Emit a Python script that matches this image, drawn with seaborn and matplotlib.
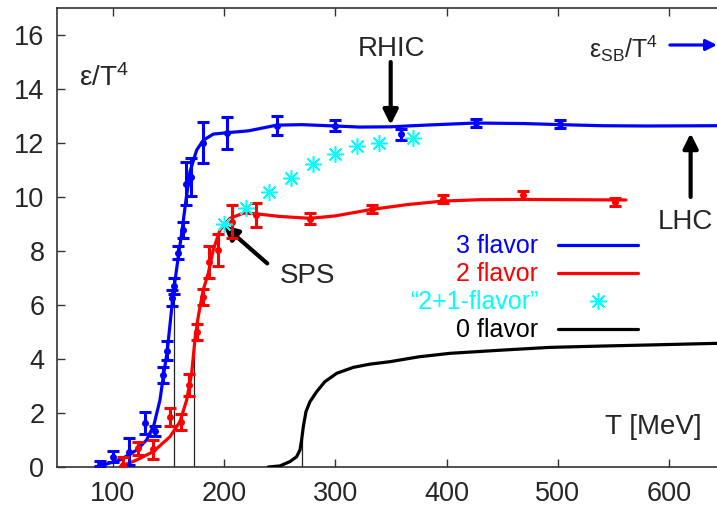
import matplotlib
matplotlib.use('Agg')
import matplotlib.pyplot as plt
import seaborn as sns

# dados lidos do grafico original
# pontos com barra de erro, 3 sabores
t_3f = [88.6, 100.5, 115, 129, 138, 145.5, 149, 153.5, 155.5, 159, 163, 166, 170.3, 181.4, 202.4, 247.3, 299.7, 358.7, 426.4, 501.9]
e_3f = [0.12, 0.38, 0.57, 1.62, 1.33, 3.4, 4.3, 6.25, 6.7, 7.94, 8.78, 10.5, 10.73, 12.01, 12.36, 12.64, 12.64, 12.32, 12.73, 12.69]
err_3f = [0.1, 0.2, 0.5, 0.4, 0.2, 0.3, 0.35, 0.3, 0.3, 0.25, 0.3, 0.8, 0.7, 0.75, 0.6, 0.35, 0.2, 0.2, 0.15, 0.15]

# pontos com barra de erro, 2 sabores
t_2f = [109.5, 122.5, 136.5, 151.5, 161.4, 168.6, 175.5, 181.4, 186.8, 194.3, 206.9, 228.5, 277.3, 332.7, 397, 468.9, 551.3]
e_2f = [0.07, 0.69, 0.65, 1.86, 1.68, 3.04, 5.0, 6.3, 7.6, 8.04, 9.09, 9.33, 9.2, 9.54, 9.91, 10.07, 9.83]
err_2f = [0.3, 0.23, 0.34, 0.34, 0.3, 0.4, 0.3, 0.3, 0.6, 0.6, 0.6, 0.45, 0.2, 0.15, 0.15, 0.15, 0.15]

# "2+1-flavor"
t_21f = [200, 219.5, 240.7, 260.2, 279.7, 299.7, 319.2, 339.5, 369.5]
e_21f = [9.0, 9.58, 10.2, 10.69, 11.21, 11.59, 11.9, 11.99, 12.2]

# curvas ajustadas
fit3_t = [88.6, 106.6, 121.6, 130.5, 137.1, 142.5, 145.5, 149, 153.9, 155.3, 159, 162, 165.9, 169.5, 175.5, 181.4, 190.4, 202.4,
          222, 247.3, 270, 299.7, 322, 350, 380, 426, 470, 502, 540, 580, 643]
fit3_e = [0.04, 0.26, 0.63, 1.0, 1.56, 2.48, 3.35, 4.27, 6.21, 6.68, 7.79, 8.65, 9.89, 10.94, 11.74, 12.1, 12.33, 12.38,
          12.45, 12.66, 12.68, 12.63, 12.59, 12.6, 12.66, 12.74, 12.72, 12.68, 12.64, 12.63, 12.64]

fit2_t = [106.6, 121.6, 136.5, 151.5, 160.5, 166.5, 171, 173.9, 176.9, 181.4, 185.9, 190.4, 196.4, 205.4, 217.3, 228.5,
          250, 277.3, 300, 332.7, 365, 397, 430, 469, 510, 561.2]
fit2_e = [0.01, 0.26, 0.57, 1.12, 1.68, 2.48, 3.47, 4.7, 5.57, 6.56, 7.17, 8.04, 8.78, 9.21, 9.4, 9.38,
          9.28, 9.21, 9.3, 9.54, 9.72, 9.85, 9.9, 9.91, 9.9, 9.89]

fit0_t = [239.8, 250.3, 259.3, 265.3, 268.3, 269.8, 271.3, 273.7, 277.3, 283.3, 290.7, 301.3, 316.2, 331.2, 349.1,
          375, 403, 450, 492.9, 540, 582.7, 643]
fit0_e = [0.0, 0.04, 0.2, 0.38, 0.63, 1.0, 1.49, 2.05, 2.42, 2.79, 3.16, 3.47, 3.69, 3.81, 3.9,
          4.08, 4.21, 4.33, 4.43, 4.48, 4.52, 4.58]

# linhas verticais em Tc
tc_t = [155.1, 173.0, 269.8]
tc_e = [6.5, 5.0, 1.0]

sns.set_style('ticks')
plt.rcParams['font.family'] = ['Liberation Sans', 'DejaVu Sans']
plt.rcParams['mathtext.fontset'] = 'custom'
plt.rcParams['mathtext.rm'] = 'Liberation Sans'
plt.rcParams['mathtext.default'] = 'regular'

fig = plt.figure(figsize=(7.17, 5.13), dpi=100)
ax = fig.add_axes([57 / 717, 46 / 513, 660 / 717, 459 / 513])

for t, e in zip(tc_t, tc_e):
    ax.plot([t, t], [0, e], color='#222222', lw=0.9, zorder=1)

sns.lineplot(x=fit3_t, y=fit3_e, sort=False, color='#0000ff', lw=2.3, ax=ax, zorder=3)
l3 = ax.lines[-1]
sns.lineplot(x=fit2_t, y=fit2_e, sort=False, color='#ff0000', lw=2.3, ax=ax, zorder=3)
l2 = ax.lines[-1]
sns.lineplot(x=fit0_t, y=fit0_e, sort=False, color='black', lw=2.3, ax=ax, zorder=3)
l0 = ax.lines[-1]

ax.errorbar(t_3f, e_3f, yerr=err_3f, fmt='o', color='#0000ff', ms=4, elinewidth=2.2, capsize=4, capthick=2.2, zorder=4)
ax.errorbar(t_2f, e_2f, yerr=err_2f, fmt='o', color='#ff0000', ms=4, elinewidth=2.2, capsize=4, capthick=2.2, zorder=4)
stars, = ax.plot(t_21f, e_21f, ls='none', marker=(8, 2, 0), ms=12, mew=1.1, color='#00ffff', zorder=5)

ax.set_xlim(50, 643)
ax.set_ylim(0, 17)
ax.set_xticks([100, 200, 300, 400, 500, 600])
ax.set_yticks([0, 2, 4, 6, 8, 10, 12, 14, 16])
ax.tick_params(axis='x', direction='in', top=True, length=6, width=1, labelsize=19.5, pad=10, color='#333333')
ax.tick_params(axis='y', direction='in', length=6, width=1, labelsize=19.5, pad=9, color='#333333')
for s in ['left', 'top', 'bottom']:
    ax.spines[s].set_linewidth(1.2)
    ax.spines[s].set_color('#333333')
ax.spines['right'].set_visible(False)

# textos e setas
ax.text(69.7, 14.4, r'ε/T$^{4}$', fontsize=20, va='center', ha='left')
ax.text(629, 1.49, 'T [MeV]', fontsize=20, va='center', ha='right')
ax.text(350.9, 15.47, 'RHIC', fontsize=20, va='center', ha='center')
ax.annotate('', xy=(349.8, 12.67), xytext=(349.8, 15.0),
            arrowprops=dict(arrowstyle='-|>', color='black', lw=3, mutation_scale=22, shrinkA=0, shrinkB=0))
ax.text(614.9, 9.09, 'LHC', fontsize=20, va='center', ha='center')
ax.annotate('', xy=(619.3, 12.36), xytext=(619.3, 10.0),
            arrowprops=dict(arrowstyle='-|>', color='black', lw=3, mutation_scale=22, shrinkA=0, shrinkB=0))
ax.text(250.3, 7.09, 'SPS', fontsize=20, va='center', ha='left')
ax.annotate('', xy=(199.5, 8.96), xytext=(238.9, 7.54),
            arrowprops=dict(arrowstyle='-|>', color='black', lw=3, mutation_scale=22, shrinkA=0, shrinkB=0))
ax.text(590.2, 15.5, r'ε$_{SB}$/T$^{4}$', fontsize=18, va='center', ha='right')
ax.annotate('', xy=(643, 15.63), xytext=(600.7, 15.63),
            arrowprops=dict(arrowstyle='-|>', color='#0000ff', lw=2.3, mutation_scale=16, shrinkA=0, shrinkB=0))

leg = ax.legend([l3, l2, stars, l0], ['3 flavor', '2 flavor', '“2+1-flavor”', '0 flavor'],
                loc='upper right', bbox_to_anchor=(572.2, 8.62), bbox_transform=ax.transData,
                frameon=False, markerfirst=False, fontsize=18, handlelength=3.2, handletextpad=0.8,
                labelspacing=0.16, borderpad=0, borderaxespad=0, labelcolor='linecolor')

plt.savefig('out.png', dpi=100)
